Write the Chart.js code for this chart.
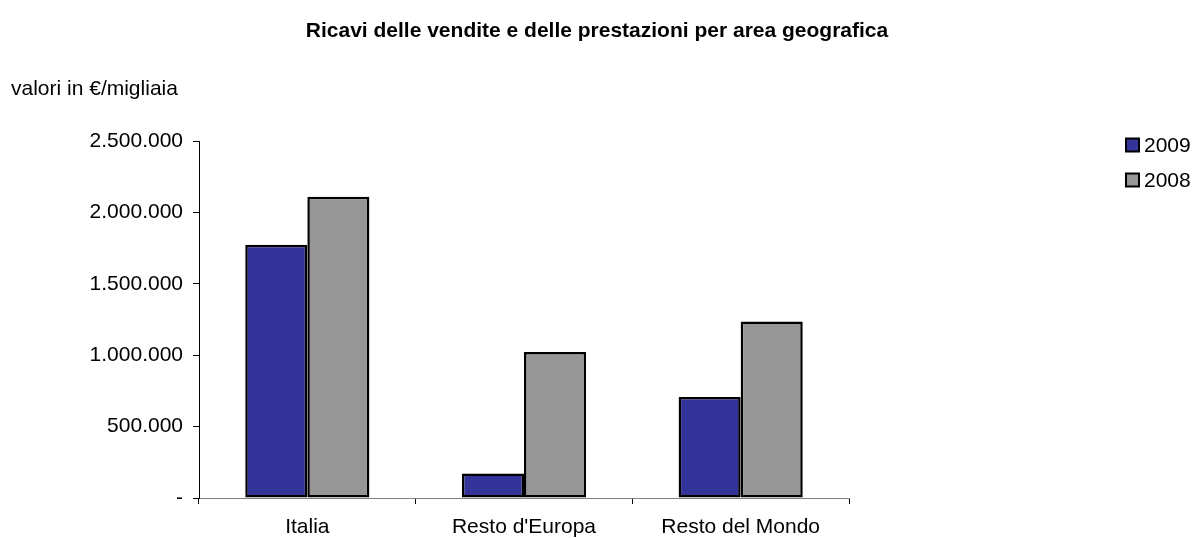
<!DOCTYPE html>
<html>
<head>
<meta charset="utf-8">
<script src="https://cdn.jsdelivr.net/npm/chart.js@4.4.1/dist/chart.umd.min.js"></script>
<style>
  html, body { margin: 0; padding: 0; background: #fff; }
  #wrap { width: 1194px; height: 538px; position: relative; }
</style>
</head>
<body>
<div id="wrap"><canvas id="ricavi" width="1194" height="538"></canvas></div>
<script>
// Ricavi per area geografica (valori in €/migliaia)
const aree = ['Italia', "Resto d'Europa", 'Resto del Mondo'];
const anni = ['2009', '2008'];
const ricavi2009 = [1774000, 172000, 708000];
const ricavi2008 = [2110000, 1023000, 1236000];
const tickValori = [0, 500000, 1000000, 1500000, 2000000, 2500000];

const coloriAnni = ['#333399', '#969696'];

const titolo = 'Ricavi delle vendite e delle prestazioni per area geografica';
const sottotitolo = 'valori in €/migliaia';

const FONT = 'Arial, "Liberation Sans", sans-serif';
const DIM = 21;

// separatore delle migliaia con il punto, lo zero come trattino
function formatta(v) {
    if (v === 0) return '-';
    return String(Math.round(v)).replace(/\B(?=(\d{3})+(?!\d))/g, '.');
}

// titolo, sottotitolo e legenda disegnati a mano
const testiPlugin = {
    id: 'testi',
    afterDraw(chart) {
        const ctx = chart.ctx;
        ctx.save();
        ctx.fillStyle = '#000';
        ctx.textBaseline = 'middle';

        ctx.font = 'bold ' + DIM + 'px ' + FONT;
        ctx.textAlign = 'center';
        ctx.fillText(titolo, 597, 31);

        ctx.font = DIM + 'px ' + FONT;
        ctx.textAlign = 'left';
        ctx.fillText(sottotitolo, 11, 89);

        chart.data.datasets.forEach((ds, i) => {
            const y = 145 + i * 35;
            ctx.fillStyle = ds.backgroundColor;
            ctx.fillRect(1126, y - 6.5, 13, 13);
            ctx.strokeStyle = '#000';
            ctx.lineWidth = 2;
            ctx.strokeRect(1126, y - 6.5, 13, 13);
            ctx.fillStyle = '#000';
            ctx.font = DIM + 'px ' + FONT;
            ctx.fillText(ds.label, 1144, y + 1);
        });
        ctx.restore();
    }
};

new Chart(document.getElementById('ricavi'), {
    type: 'bar',
    data: {
        labels: aree,
        datasets: [
            {
                label: anni[0],
                data: ricavi2009,
                backgroundColor: coloriAnni[0],
                borderColor: '#000',
                borderWidth: 2.5,
                borderSkipped: false,
                categoryPercentage: 0.573,
                barPercentage: 1.0
            },
            {
                label: anni[1],
                data: ricavi2008,
                backgroundColor: coloriAnni[1],
                borderColor: '#000',
                borderWidth: 2.5,
                borderSkipped: false,
                categoryPercentage: 0.573,
                barPercentage: 1.0
            }
        ]
    },
    options: {
        responsive: false,
        animation: false,
        devicePixelRatio: 1,
        layout: {
            padding: { left: 0, right: 345, top: 141, bottom: 0 }
        },
        scales: {
            x: {
                offset: true,
                grid: {
                    offset: true,
                    drawOnChartArea: false,
                    drawTicks: true,
                    tickLength: 6,
                    color: '#000'
                },
                border: { color: '#808080', width: 1 },
                ticks: {
                    color: '#000',
                    font: { family: FONT, size: DIM },
                    padding: 11
                },
                afterFit(scale) { scale.height = 40; }
            },
            y: {
                min: 0,
                max: 2500000,
                afterBuildTicks(scale) {
                    scale.ticks = tickValori.map(v => ({ value: v }));
                },
                grid: {
                    drawOnChartArea: false,
                    drawTicks: true,
                    tickLength: 6,
                    color: '#000'
                },
                border: { color: '#000', width: 1 },
                ticks: {
                    color: '#000',
                    font: { family: FONT, size: DIM },
                    padding: 10,
                    callback: v => formatta(v)
                },
                afterFit(scale) { scale.width = 199; }
            }
        },
        plugins: {
            legend: { display: false },
            title: { display: false },
            tooltip: { enabled: false }
        }
    },
    plugins: [testiPlugin]
});
</script>
</body>
</html>
